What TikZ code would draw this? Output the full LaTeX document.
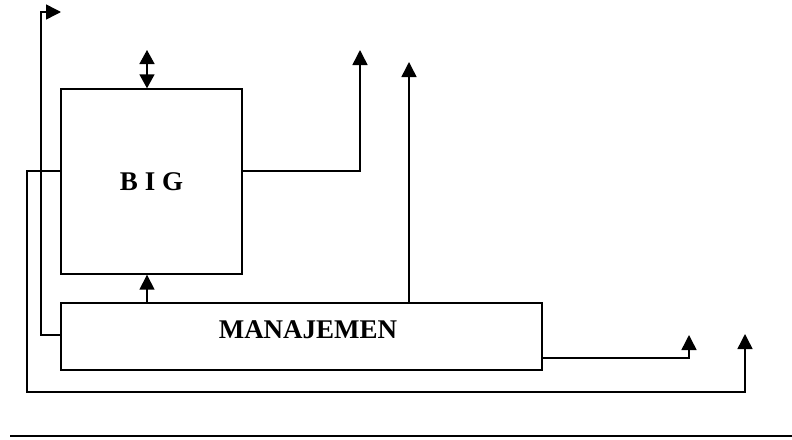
\documentclass[tikz,border=0pt]{standalone}
\usepackage{fontspec}
\setmainfont{Liberation Serif}
\usetikzlibrary{arrows.meta}
\tikzset{
  box/.style={draw, line width=1.4pt, rectangle, inner sep=0pt, font=\fontsize{27}{30}\selectfont\bfseries},
  conn/.style={line width=1.5pt},
  arr/.style={conn, -{Triangle[length=15pt,width=15pt]}},
  darr/.style={conn, {Triangle[length=14pt,width=15pt]}-{Triangle[length=14pt,width=15pt]}},
  rule/.style={line width=2pt}
}
\begin{document}
\begin{tikzpicture}[x=1pt,y=-1pt]
\useasboundingbox (0,0) rectangle (792,439);
% boxes
\node[box, minimum width=181pt, minimum height=185pt] (big) at (151.5,181.5) {B I G};
\node[box, minimum width=481pt, minimum height=67pt] (man) at (301.5,336.5) {};
\node[font=\fontsize{27}{30}\selectfont\bfseries, inner sep=0pt] (mantext) at (308,330) {MANAJEMEN};
% free ends
\coordinate (dtop) at (147,50);
\coordinate (o1) at (360,50);
\coordinate (o2) at (409,62);
\coordinate (o3) at (689,335);
\coordinate (o4) at (745,334);
\coordinate (o5) at (61,12);
\coordinate (c1) at (27,392);
\coordinate (c2) at (41,12);
\coordinate (r1) at (10,436);
\coordinate (r2) at (792,436);
% connectors
\draw[darr] (dtop) -- (dtop |- big.north);
\draw[arr] ([yshift=10.5pt]big.east) -| (o1);
\draw[arr] (o2 |- man.north) -- (o2);
\draw[arr] (big.south -| dtop) ++(0,29) -- (big.south -| dtop);
\draw[arr] ([yshift=-21.5pt]man.east) -| (o3);
\draw[arr] ([yshift=10.5pt]big.west) -| (c1) -| (o4);
\draw[arr] ([yshift=1.5pt]man.west) -| (c2) -- (o5);
% bottom rule
\draw[rule] (r1) -- (r2);
\end{tikzpicture}
\end{document}
